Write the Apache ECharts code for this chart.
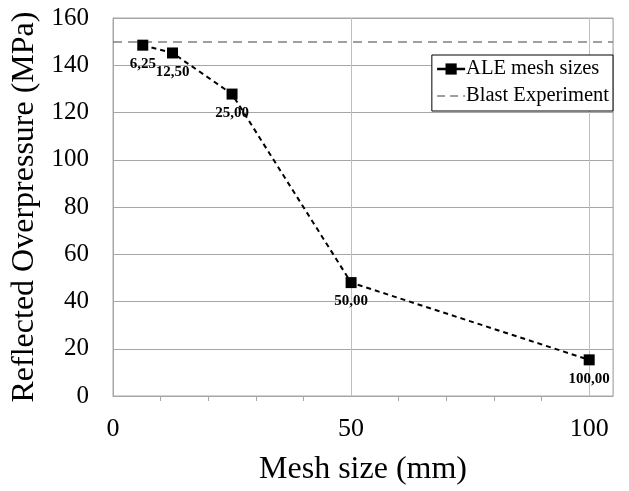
<!DOCTYPE html>
<html><head><meta charset="utf-8">
<script src="https://cdn.jsdelivr.net/npm/echarts@6/dist/echarts.min.js"></script>
<style>html,body{margin:0;padding:0;background:#fff}#c{width:629px;height:491px}</style>
</head><body><div id="c"></div>
<script>
const meshSizes = [6.25, 12.5, 25, 50, 100];
const overpressure = [148.5, 145.2, 127.8, 48.0, 15.3];
const pointLabels = ['6,25', '12,50', '25,00', '50,00', '100,00'];
const blastExperiment = 150;
const xTicks = [0, 50, 100];
const yTicks = [0, 20, 40, 60, 80, 100, 120, 140, 160];

const F = '"Liberation Serif","Times New Roman",serif';
const chart = echarts.init(document.getElementById('c'));
chart.setOption({
  animation: false,
  backgroundColor: '#fff',
  grid: {left: 113, right: 16, top: 18, bottom: 93, show: true, borderColor: '#a6a6a6', borderWidth: 1},
  legend: {
    right: 16, top: 55, orient: 'vertical', itemGap: 5, itemWidth: 28, itemHeight: 14,
    backgroundColor: '#fff', borderColor: '#000', borderWidth: 1, padding: [3, 4, 4, 4],
    textStyle: {fontFamily: F, fontSize: 20.5, color: '#000', padding: [0,0,0,-4], lineHeight: 22},
    data: [
      {name: 'ALE mesh sizes', lineStyle: {type: 'solid', width: 2.5}},
      {name: 'Blast Experiment', itemStyle: {opacity: 0},
        lineStyle: {type: [8, 5], width: 1.5, color: '#808080'}}
    ]
  },
  xAxis: {
    type: 'value', min: 0, max: 105, interval: 50,
    axisLine: {show: true, lineStyle: {color: '#a6a6a6'}},
    axisTick: {show: false},
    minorTick: {show: true, splitNumber: 5, length: 5, lineStyle: {color: '#a6a6a6'}},
    splitLine: {show: true, lineStyle: {color: '#bfbfbf'}},
    axisLabel: {fontFamily: F, fontSize: 26, color: '#000', margin: 20,
      formatter: v => xTicks.includes(v) ? String(v) : ''},
    name: 'Mesh size (mm)', nameLocation: 'middle', nameGap: 58,
    nameTextStyle: {fontFamily: F, fontSize: 32, color: '#000'}
  },
  yAxis: {
    type: 'value', min: 0, max: 160, interval: 20,
    axisLine: {show: true, lineStyle: {color: '#a6a6a6'}},
    axisTick: {show: false},
    splitLine: {show: true, lineStyle: {color: '#a6a6a6'}},
    axisLabel: {fontFamily: F, fontSize: 25, color: '#000', margin: 24,
      formatter: v => yTicks.includes(v) ? String(v) : ''},
    name: 'Reflected Overpressure (MPa)', nameLocation: 'middle', nameGap: 67,
    nameTextStyle: {fontFamily: F, fontSize: 32, color: '#000'}
  },
  series: [
    {
      name: 'ALE mesh sizes', type: 'line',
      data: meshSizes.map((x, i) => [x, overpressure[i]]),
      symbol: 'rect', symbolSize: 11,
      itemStyle: {color: '#000'},
      lineStyle: {color: '#000', width: 2, type: [5, 4]},
      label: {show: true, position: 'bottom', distance: 6,
        fontFamily: F, fontSize: 15, fontWeight: 'bold', color: '#000',
        formatter: p => pointLabels[p.dataIndex]},
      z: 5
    },
    {
      name: 'Blast Experiment', type: 'line', data: [],
      symbol: 'none',
      itemStyle: {color: '#808080'},
      lineStyle: {color: '#808080', width: 1.5, type: [9, 6]},
      markLine: {silent: true, symbol: 'none', label: {show: false},
        lineStyle: {color: '#808080', width: 1.5, type: [9, 6]},
        data: [{yAxis: blastExperiment}]},
      z: 3
    }
  ]
});
</script></body></html>
